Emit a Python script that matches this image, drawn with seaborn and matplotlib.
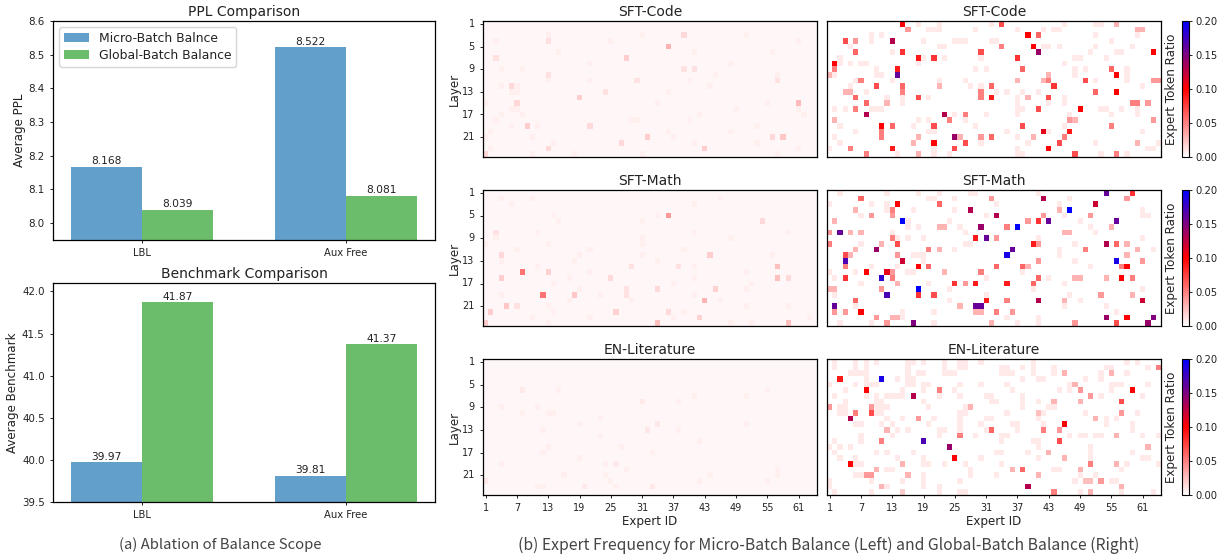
import numpy as np
import pandas as pd
import matplotlib
matplotlib.use("Agg")
import matplotlib.pyplot as plt
from matplotlib.colors import LinearSegmentedColormap
import seaborn as sns

SETUPS = ["LBL", "Aux Free"]
SERIES = ["Micro-Batch Balance", "Global-Batch Balance"]
LEGEND_LABELS = ["Micro-Batch Balnce", "Global-Batch Balance"]
PPL_MICRO = [8.168, 8.522]
PPL_GLOBAL = [8.039, 8.081]
BENCH_MICRO = [39.97, 39.81]
BENCH_GLOBAL = [41.87, 41.37]

N_LAYERS = 24
N_EXPERTS = 64
LEFT_BASE = 0.0035
RIGHT_BASE = 0.0006
LEFT_FAINT_VALUE = 0.0065
RIGHT_FAINT_VALUE = 0.009

# (layer row, expert column, ratio)
CODE_LEFT = [(2,38,.015),(4,35,.03),(6,27,.02),(8,38,.012),(8,40,.012),(3,12,.012),(6,2,.012),(11,5,.015),(10,29,.012),
 (13,18,.02),(14,6,.015),(14,60,.027),(18,8,.02),(18,20,.015),(20,31,.02),(20,55,.015),(20,57,.022),(21,26,.015),
 (22,42,.02),(22,12,.015),(23,0,.015),(12,23,.012),(10,56,.012),(9,12,.012)]
MATH_LEFT = [(4,35,.04),(18,11,.055),(14,7,.055),(14,12,.018),(15,3,.02),(15,24,.015),(15,56,.025),(13,56,.025),(15,58,.015),
 (18,17,.022),(18,27,.012),(17,27,.012),(17,33,.015),(17,44,.018),(19,42,.03),(20,4,.022),(20,6,.012),(21,1,.02),
 (21,25,.018),(21,35,.015),(22,41,.018),(23,33,.025),(23,58,.025),(23,0,.02),(11,43,.02),(5,53,.015),(11,3,.015),
 (7,2,.012),(13,28,.012),(13,37,.012)]
LIT_LEFT = [(11,33,.01),(22,32,.01),(21,0,.01),(12,31,.01),(7,30,.009),(5,7,.009),(18,25,.009),(22,19,.009)]
CODE_RIGHT = [(0,14,.10),(0,33,.07),(1,15,.04),(2,38,.10),(2,40,.06),(3,3,.07),(3,12,.13),(3,5,.04),(4,39,.10),(4,33,.05),
 (5,5,.06),(5,14,.08),(5,29,.07),(5,40,.14),(5,62,.10),(6,17,.09),(6,20,.08),(6,36,.08),(7,1,.10),(8,1,.05),(8,13,.09),
 (8,37,.06),(8,54,.06),(9,13,.16),(9,55,.10),(10,6,.05),(10,49,.07),(10,42,.05),(10,63,.04),(10,62,.04),(11,9,.07),(11,14,.06),
 (11,31,.06),(11,43,.08),(12,55,.10),(12,14,.05),(12,29,.05),(12,51,.06),(13,5,.06),(13,17,.07),(13,31,.09),(13,42,.07),
 (13,29,.05),(14,7,.06),(14,58,.05),(14,59,.05),(14,61,.04),(15,5,.05),(15,40,.07),(15,48,.10),(16,7,.13),(16,22,.13),
 (16,26,.05),(17,23,.05),(17,46,.05),(17,62,.04),(18,10,.10),(18,12,.06),(18,20,.07),(18,37,.07),(18,54,.05),(19,41,.11),
 (19,46,.09),(19,10,.05),(20,24,.14),(20,31,.06),(20,29,.04),(20,10,.05),(20,45,.05),(21,20,.10),(21,26,.07),(21,44,.07),
 (22,12,.09),(22,24,.07),(22,42,.10),(22,4,.05),(23,47,.07),(23,55,.05),(23,7,.05),(9,0,.03),(9,42,.03),(10,36,.03),(10,41,.03),
 (11,21,.03),(12,3,.03),(12,4,.03),(13,38,.03),(14,11,.03),(17,1,.03),(17,46,.04),(17,47,.03),(20,17,.03),(20,25,.03),(20,39,.03),
 (21,16,.03),(21,59,.03),(23,17,.03),(1,59,.03),(1,60,.03),(0,55,.03)]
MATH_RIGHT = [(0,53,.16),(0,58,.08),(1,6,.06),(1,41,.13),(1,31,.04),(1,57,.04),(2,13,.10),(2,21,.06),(2,51,.12),(3,27,.13),
 (3,46,.20),(3,12,.05),(3,5,.03),(3,44,.03),(4,32,.13),(4,8,.04),(4,12,.04),(4,41,.04),(4,50,.04),(5,14,.20),(5,40,.08),
 (5,42,.16),(5,55,.16),(5,38,.04),(5,1,.03),(6,29,.14),(6,36,.20),(6,34,.05),(6,21,.03),(6,22,.03),(6,54,.03),(7,2,.16),
 (7,0,.04),(7,6,.03),(7,4,.03),(7,45,.03),(7,46,.03),(8,28,.09),(8,30,.16),(8,32,.04),(8,12,.05),(9,0,.05),(9,13,.07),
 (9,39,.09),(9,53,.13),(9,55,.06),(9,40,.04),(9,57,.03),(9,10,.03),(10,9,.14),(10,35,.16),(10,19,.05),(10,21,.03),(10,49,.05),
 (10,5,.03),(10,59,.03),(11,3,.07),(11,34,.19),(11,4,.03),(11,13,.04),(11,57,.03),(12,3,.17),(12,14,.12),(12,55,.19),(12,40,.04),
 (12,60,.04),(13,3,.05),(13,17,.10),(13,19,.06),(13,32,.06),(13,37,.06),(13,38,.03),(13,56,.05),(13,57,.10),(14,7,.10),
 (14,11,.11),(14,12,.04),(14,29,.05),(14,22,.03),(15,3,.08),(15,10,.18),(15,12,.05),(15,40,.06),(15,56,.10),(15,58,.05),
 (15,53,.03),(15,47,.03),(15,48,.03),(16,24,.08),(16,26,.04),(16,28,.09),(16,34,.09),(16,39,.06),(16,13,.03),(17,17,.20),
 (17,10,.04),(17,0,.03),(17,1,.03),(18,11,.17),(18,17,.08),(18,20,.07),(18,52,.04),(18,58,.03),(19,5,.06),(19,30,.09),
 (19,34,.05),(19,40,.13),(19,60,.12),(19,45,.03),(20,1,.16),(20,28,.16),(20,29,.16),(20,25,.03),(21,6,.10),(21,1,.04),
 (21,3,.04),(21,28,.03),(21,29,.03),(21,32,.05),(21,35,.04),(22,53,.14),(22,57,.10),(22,62,.15),(22,9,.04),(22,12,.03),
 (22,13,.03),(23,16,.15),(23,61,.14),(23,55,.07),(23,11,.04),(23,47,.04),(23,31,.03)]
LIT_RIGHT = [(3,2,.09),(3,10,.19),(5,7,.10),(5,21,.05),(5,58,.10),(5,48,.04),(6,16,.13),(7,56,.07),(7,48,.03),(8,0,.04),(8,8,.04),
 (8,27,.03),(9,5,.05),(9,8,.07),(9,56,.04),(10,4,.13),(10,17,.04),(10,51,.03),(11,45,.10),(12,31,.06),(12,41,.04),(12,44,.04),
 (12,11,.03),(13,25,.05),(14,18,.17),(14,10,.05),(14,44,.07),(15,23,.14),(17,24,.10),(18,4,.10),(18,14,.03),(18,50,.06),
 (19,37,.05),(19,9,.03),(19,35,.03),(20,7,.04),(20,8,.04),(20,15,.03),(20,40,.03),(22,38,.13),(22,10,.03),(22,56,.03),
 (23,43,.05),(23,14,.02),(1,63,.05),(2,45,.03),(2,54,.03),(4,47,.03),(6,50,.04),(7,43,.03),(7,48,.03),(9,40,.025),(10,51,.03),
 (12,41,.05),(13,25,.05),(13,55,.03),(15,61,.03),(16,42,.03),(17,45,.03),(18,50,.05),(18,55,.03),(19,35,.03),(19,37,.06),
 (19,48,.03),(20,40,.03),(21,52,.04),(21,49,.025),(21,50,.025),(23,50,.03)]

# faint cells: {layer row: expert columns}
CODE_RIGHT_FAINT = {0:[17,21,31,45,51,52],1:[19,20,21,28,36,41,43,44],2:[8,10,51,59],3:[8,18,24,25,26,31,32,54],4:[4,21,22,41,42,44,51,58],
 5:[12,50,55,56],6:[2,18,22,29,47,48,53],7:[2,4,6,7,17,45],8:[9,28,30,47,49,57],9:[1,9,10,47,57],10:[5,12,21,26,51,57],11:[4,21,27,29,60],
 12:[7,32,34,37,40],13:[11,14,19,36,45],14:[14,36,42,45],15:[1,3,8,9,10,36,37,52,53,56,59],16:[24,30,36,46,54,59],17:[17,19,26],
 18:[2,16,28,45],19:[5,19,20,34,42,60],20:[1,36],21:[2,29,38,51,63],22:[20,36,61,62,0],23:[13,20,23,36,37,52,57]}
MATH_RIGHT_FAINT = {0:[11,17,21,27,28,2,40],1:[19,20,24,46],2:[0,8,11,32,44],3:[11,24,60,16],4:[6,45,60,61,30],5:[15,23,48],6:[15,17,25,50],7:[26,51,12],
 8:[13,15,18,40,60],9:[6,26,27,47],10:[5,24,44,62],11:[16,17,18,44],12:[18,47],13:[13,50,8],14:[0,5,15,16,37],15:[1,30,42],16:[6,19,45],
 17:[23,39,60],18:[1,30,46],19:[23,48],20:[5,45,53],21:[14,20,55],22:[14,34,40],23:[2,8,20,36,40]}
LIT_RIGHT_FAINT = {0:[1,5,7,9,15,16,18,22,25,26,29,39,57,59],1:[1,5,7,15,22,25,26,33,34,37,39,43,53,54,61],
 2:[4,5,6,7,15,17,18,22,23,24,33,34,35,39,43,52,57],3:[7,13,15,16,37,40,41,49,52],4:[0,5,7,8,9,15,16,18,19,25,29,34,46,54,55,56,61],
 5:[3,14,18,24,35,44,46,54],6:[1,7,9,11,12,13,14,21,25,30,31,37,52,60],7:[3,9,10,18,31,32,37,40],8:[2,3,9,10,11,19,26,37,42,43],
 9:[2,3,9,10,25,26,34,40,41,49,59],10:[11,14,20,25,30,31,40,53,55],11:[5,6,10,12,19,25,29,35,36,41,53,58],12:[13,15,21,22,25,30,36,58],
 13:[6,12,21,28,33,34,46,48,49,51,52,60,63],14:[1,6,33,39,40],15:[0,2,4,40,50],16:[1,9,11,16,32,33,38,42,50,58],
 17:[2,5,13,18,29,40,45,50,60,61],18:[5,6,14,18,19,22,26,33,50,57,63],19:[11,12,27,43,44,48,56],20:[5,6,18,27,32,48,51],
 21:[0,8,14,18,25,47,54,55],22:[0,11,18,21,56],23:[1,8,21,25,26,48,56,62]}
CODE_LEFT_FAINT = {2:[12,30,50],3:[2,24,60],5:[14,40,55],7:[20,47],8:[3,7],9:[44,56],10:[12,20,39],11:[3,6,43],12:[5,6,23,35],14:[0,33,54],
 15:[5,6,48,60],16:[3,7,41,61],17:[2,28,29,39],18:[5,10,52],19:[1,35,47],20:[0,9,36],21:[13,40,52],22:[1,60],23:[9,17,30,56]}
MATH_LEFT_FAINT = {1:[3,9,45],2:[5,40],4:[13,33],5:[14,30],7:[10,40,58],8:[2,30,47],9:[0,12,30],10:[6,20,38],11:[18,30,55],12:[3,17,33],
 13:[10,40],14:[20,50],15:[16,40],16:[13,36,51],17:[18,50],18:[3,22,40],19:[16,28,45],20:[12,50,58],21:[13,38],22:[9,20,36,62],23:[12,47,51]}
LIT_LEFT_FAINT = {5:[14,54],6:[50,40],7:[37],8:[3,10],9:[7,12,13],10:[22],11:[18,50],12:[11,37],13:[22],14:[41],15:[12,26],16:[11,32],17:[18],
 18:[3,23,25],19:[27,56],20:[15,23,43,56],21:[24,41,54],22:[10,11,25]}

W, H = 1229, 560
sns.set_theme(style="white", rc={"font.family": "DejaVu Sans"})
plt.rcParams.update({"axes.edgecolor": "black", "axes.linewidth": 0.9, "xtick.bottom": True, "ytick.left": True,
                     "xtick.color": "#222222", "ytick.color": "#222222", "text.color": "#222222",
                     "axes.labelcolor": "#222222", "xtick.major.size": 2.5, "ytick.major.size": 2.5,
                     "xtick.major.width": 0.7, "ytick.major.width": 0.7})
fig = plt.figure(figsize=(W / 100, H / 100), dpi=100)

def box(x0, y0, x1, y1):
    return fig.add_axes([x0 / W, 1 - y1 / H, (x1 - x0) / W, (y1 - y0) / H])

cmap = LinearSegmentedColormap.from_list("wrb", ["white", "red", "blue"])
pal = ["#1f77b4", "#2ca02c"]

def bars(ax, a, b, fmt, ylim, title, ylabel, yticks, legend=False):
    df = pd.DataFrame({"setup": SETUPS * 2, "scope": [SERIES[0]] * 2 + [SERIES[1]] * 2, "v": list(a) + list(b)})
    sns.barplot(df, x="setup", y="v", hue="scope", palette=pal, width=0.7, alpha=0.7, gap=0, saturation=1,
                errorbar=None, legend=legend, linewidth=0, ax=ax)
    for c in ax.containers:
        ax.bar_label(c, fmt=fmt, fontsize=7.7, padding=0.5, color="#222222")
    ax.set_xlim(-0.436, 1.436)
    ax.set_ylim(*ylim)
    ax.set_yticks(yticks)
    ax.set_yticklabels([f"{t:.1f}" for t in yticks], fontsize=7.4)
    ax.tick_params(axis="x", labelsize=7.2, pad=3)
    ax.set_xlabel("")
    ax.set_ylabel(ylabel, fontsize=8.6, labelpad=2)
    ax.set_title(title, fontsize=10, pad=3.5)
    if legend:
        h, _ = ax.get_legend_handles_labels()
        ax.legend(h, LEGEND_LABELS, loc="upper left", fontsize=8.9, frameon=True, edgecolor="#cccccc", framealpha=0.8,
                  borderpad=0.4, labelspacing=0.3, handlelength=2, handletextpad=0.8, borderaxespad=0.5)

bars(box(53, 21, 435, 240), PPL_MICRO, PPL_GLOBAL, "%.3f", (7.95, 8.6), "PPL Comparison", "Average PPL",
     [8.0, 8.1, 8.2, 8.3, 8.4, 8.5, 8.6], legend=True)
bars(box(53, 283, 435, 502), BENCH_MICRO, BENCH_GLOBAL, "%.2f", (39.5, 42.1), "Benchmark Comparison", "Average Benchmark",
     [39.5, 40.0, 40.5, 41.0, 41.5, 42.0])

def grid(cells, faint, base, faint_value):
    m = np.full((N_LAYERS, N_EXPERTS), base, dtype=float)
    for r, cols in faint.items():
        m[r, cols] = faint_value
    for r, c, v in cells:
        m[r, c] = v
    return m

ROW_Y = [(21, 157), (190, 326), (359, 495)]
NAMES = ["SFT-Code", "SFT-Math", "EN-Literature"]
LEFTS = [(CODE_LEFT, CODE_LEFT_FAINT), (MATH_LEFT, MATH_LEFT_FAINT), (LIT_LEFT, LIT_LEFT_FAINT)]
RIGHTS = [(CODE_RIGHT, CODE_RIGHT_FAINT), (MATH_RIGHT, MATH_RIGHT_FAINT), (LIT_RIGHT, LIT_RIGHT_FAINT)]
layer_ticks = list(range(0, N_LAYERS, 4))
expert_ticks = list(range(0, N_EXPERTS, 6))

for i, (y0, y1) in enumerate(ROW_Y):
    axl = box(483, y0, 817, y1)
    axr = box(827, y0, 1161, y1)
    cax = box(1182, y0, 1189, y1)
    sns.heatmap(grid(*LEFTS[i], LEFT_BASE, LEFT_FAINT_VALUE), ax=axl, cmap=cmap, vmin=0, vmax=0.2, cbar=False)
    sns.heatmap(grid(*RIGHTS[i], RIGHT_BASE, RIGHT_FAINT_VALUE), ax=axr, cmap=cmap, vmin=0, vmax=0.2, cbar_ax=cax)
    for j, ax in enumerate((axl, axr)):
        for s in ax.spines.values():
            s.set_visible(True)
            s.set_linewidth(0.9)
        ax.set_title(NAMES[i], fontsize=10, pad=3.5)
        if i == 2:
            ax.set_xticks([t + 0.5 for t in expert_ticks])
            ax.set_xticklabels([str(t + 1) for t in expert_ticks], rotation=0, fontsize=7)
            ax.set_xlabel("Expert ID", fontsize=8.6, labelpad=1)
        else:
            ax.set_xticks([])
        if j == 0:
            ax.set_yticks([t + 0.5 for t in layer_ticks])
            ax.set_yticklabels([str(t + 1) for t in layer_ticks], rotation=0, fontsize=7)
            ax.set_ylabel("Layer", fontsize=8.6, labelpad=1)
        else:
            ax.set_yticks([])
    cb = axr.collections[0].colorbar
    cb.set_ticks([0, 0.05, 0.10, 0.15, 0.20])
    cb.ax.set_yticklabels(["0.00", "0.05", "0.10", "0.15", "0.20"], fontsize=7.2)
    cb.ax.tick_params(length=2.5, width=0.7, pad=2)
    cb.outline.set_visible(True)
    cb.outline.set_edgecolor("black")
    cb.outline.set_linewidth(0.8)
    cb.set_label("Expert Token Ratio", fontsize=8.6, labelpad=3)
    cb.ax.yaxis.set_label_position("left")

CAP = ["Noto Sans CJK SC", "DejaVu Sans"]
fig.text(220 / W, 1 - 545 / H, "(a) Ablation of Balance Scope", ha="center", va="center", fontsize=10.7, color="#444444", family=CAP)
fig.text(829 / W, 1 - 545 / H, "(b) Expert Frequency for Micro-Batch Balance (Left) and Global-Batch Balance (Right)", ha="center", va="center",
         fontsize=11.3, color="#444444", family=CAP)
fig.savefig("out.png", dpi=100)
